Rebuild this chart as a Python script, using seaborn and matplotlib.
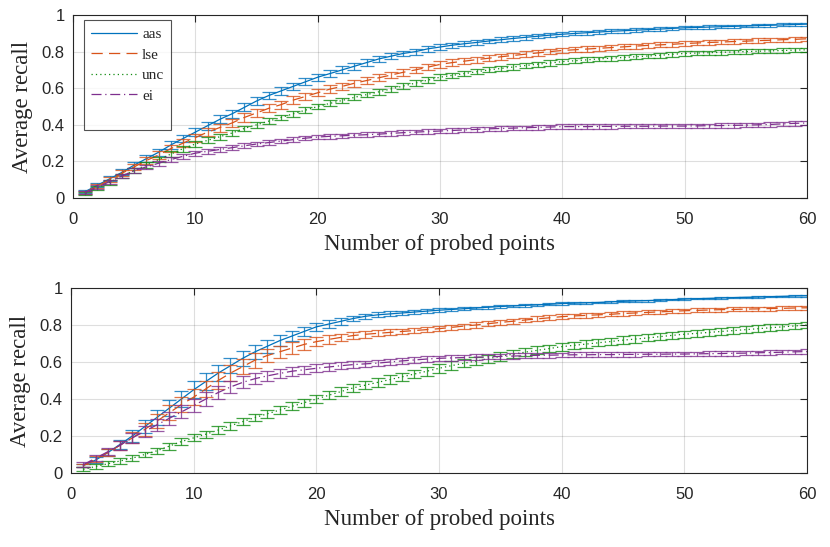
import numpy as np
import pandas as pd
import seaborn as sns
import matplotlib
matplotlib.use("Agg")
import matplotlib.pyplot as plt
from matplotlib.lines import Line2D

sns.set_theme(style="white")
plt.rcParams['font.family'] = ['Liberation Sans', 'DejaVu Sans']

# probed points 1..60
probes = list(range(1, 61))
methods = ['aas', 'lse', 'unc', 'ei']

# ---- top panel (mean recall) ----
top_aas = [.035, .07, .105, .14, .18, .215, .25, .29, .325, .36,
           .395, .43, .46, .495, .53, .56, .585, .61, .635, .66,
           .68, .70, .72, .74, .76, .775, .79, .80, .815, .825,
           .835, .843, .85, .858, .865, .872, .878, .884, .89, .895,
           .899, .903, .907, .911, .914, .917, .92, .923, .927, .93,
           .932, .934, .936, .938, .94, .942, .944, .946, .948, .95]
top_lse = [.03, .065, .10, .135, .17, .205, .235, .27, .30, .33,
           .36, .385, .41, .44, .465, .49, .51, .535, .555, .575,
           .595, .61, .627, .642, .657, .672, .687, .70, .715, .73,
           .74, .748, .756, .764, .772, .779, .786, .793, .80, .806,
           .81, .814, .818, .822, .826, .83, .834, .837, .84, .844,
           .847, .85, .852, .855, .857, .86, .862, .865, .867, .87]
top_unc = [.025, .055, .085, .12, .15, .18, .21, .24, .27, .295,
           .315, .335, .355, .38, .40, .42, .44, .46, .48, .50,
           .517, .533, .55, .565, .58, .596, .612, .628, .644, .66,
           .67, .68, .69, .70, .708, .716, .724, .731, .738, .745,
           .75, .755, .76, .764, .768, .772, .776, .78, .785, .79,
           .792, .794, .796, .798, .80, .802, .804, .806, .808, .81]
top_ei = [.03, .06, .09, .12, .15, .17, .19, .21, .228, .245,
          .255, .265, .275, .285, .295, .303, .311, .319, .327, .333,
          .337, .34, .343, .346, .349, .353, .357, .36, .363, .366,
          .369, .372, .375, .378, .38, .382, .384, .386, .388, .39,
          .39, .39, .391, .391, .392, .392, .392, .393, .393, .393,
          .394, .395, .396, .397, .398, .40, .402, .405, .408, .41]

top_aas_err = [.01, .012, .014, .016, .018, .02, .02, .021, .021, .022,
               .022, .022, .022, .022, .021, .021, .021, .02, .02, .02,
               .019, .019, .018, .018, .017, .017, .016, .016, .015, .015,
               .014, .014, .013, .013, .013, .012, .012, .012, .011, .011,
               .011, .011, .01, .01, .01, .01, .01, .009, .009, .009,
               .009, .009, .009, .008, .008, .008, .008, .008, .008, .008]
top_lse_err = [.01, .012, .014, .016, .018, .02, .02, .021, .021, .022,
               .022, .022, .022, .022, .022, .021, .021, .021, .02, .02,
               .02, .02, .019, .019, .019, .018, .018, .018, .017, .017,
               .017, .016, .016, .016, .016, .015, .015, .015, .015, .015,
               .014, .014, .014, .014, .014, .014, .013, .013, .013, .013,
               .013, .013, .013, .012, .012, .012, .012, .012, .012, .012]
top_unc_err = [.008, .01, .012, .013, .014, .015, .015, .016, .016, .016,
               .016, .016, .016, .016, .016, .016, .016, .016, .016, .016,
               .016, .016, .016, .015, .015, .015, .015, .015, .015, .015,
               .015, .015, .015, .014, .014, .014, .014, .014, .014, .014,
               .014, .013, .013, .013, .013, .013, .013, .013, .013, .013,
               .012, .012, .012, .012, .012, .012, .012, .012, .012, .012]
top_ei_err = [.008, .01, .011, .012, .012, .013, .013, .013, .013, .013,
              .013, .013, .013, .013, .013, .013, .013, .012, .012, .012,
              .012, .012, .012, .012, .012, .012, .012, .012, .012, .012,
              .012, .012, .012, .012, .012, .012, .012, .012, .012, .012,
              .012, .012, .012, .012, .012, .012, .012, .012, .012, .012,
              .012, .012, .012, .012, .012, .012, .012, .013, .013, .013]

# ---- bottom panel ----
bot_aas = [.04, .07, .11, .155, .20, .25, .30, .35, .40, .45,
           .495, .54, .58, .62, .655, .685, .715, .74, .765, .79,
           .805, .82, .835, .847, .855, .86, .865, .87, .875, .88,
           .884, .888, .892, .896, .90, .903, .906, .909, .912, .916,
           .918, .92, .922, .925, .928, .93, .932, .934, .937, .94,
           .942, .944, .946, .948, .95, .951, .953, .955, .957, .958]
bot_lse = [.04, .075, .11, .15, .19, .235, .28, .325, .37, .41,
           .455, .50, .54, .575, .61, .635, .655, .675, .695, .71,
           .722, .733, .743, .75, .755, .76, .765, .77, .775, .78,
           .787, .794, .80, .807, .814, .82, .827, .833, .839, .845,
           .849, .852, .855, .858, .862, .865, .868, .871, .874, .877,
           .879, .881, .883, .884, .886, .887, .889, .89, .892, .893]
bot_unc = [.02, .035, .05, .065, .08, .10, .12, .145, .17, .19,
           .21, .232, .255, .278, .30, .32, .34, .36, .38, .40,
           .42, .44, .46, .475, .49, .505, .52, .535, .55, .566,
           .58, .593, .605, .618, .63, .642, .653, .663, .673, .683,
           .69, .697, .704, .711, .718, .724, .73, .737, .744, .75,
           .755, .76, .765, .77, .775, .78, .785, .79, .795, .80]
bot_ei = [.045, .08, .115, .15, .19, .225, .26, .295, .33, .365,
          .40, .435, .465, .49, .51, .525, .538, .55, .558, .566,
          .573, .58, .586, .59, .594, .60, .606, .611, .616, .62,
          .622, .624, .626, .628, .63, .632, .634, .636, .637, .638,
          .639, .639, .64, .64, .641, .641, .642, .642, .643, .643,
          .644, .645, .646, .647, .648, .65, .651, .653, .655, .656]

bot_aas_err = [.01, .015, .02, .025, .03, .035, .04, .042, .044, .045,
               .045, .044, .042, .04, .037, .034, .031, .028, .025, .022,
               .02, .018, .016, .015, .014, .013, .012, .011, .01, .01,
               .009, .009, .008, .008, .008, .007, .007, .007, .006, .006,
               .006, .006, .005, .005, .005, .005, .005, .005, .004, .004,
               .004, .004, .004, .004, .004, .004, .004, .004, .004, .004]
bot_lse_err = [.01, .015, .02, .025, .03, .034, .037, .04, .042, .043,
               .044, .044, .043, .042, .04, .037, .034, .031, .028, .025,
               .022, .02, .019, .018, .017, .016, .016, .015, .015, .015,
               .014, .014, .014, .014, .013, .013, .013, .013, .013, .012,
               .012, .012, .012, .012, .012, .012, .011, .011, .011, .011,
               .011, .011, .011, .011, .011, .011, .011, .011, .011, .011]
bot_unc_err = [.01, .012, .013, .014, .015, .016, .017, .018, .018, .019,
               .019, .02, .02, .02, .021, .021, .021, .022, .022, .022,
               .022, .023, .023, .023, .023, .023, .023, .023, .023, .023,
               .023, .022, .022, .022, .022, .022, .021, .021, .021, .021,
               .02, .02, .02, .02, .02, .02, .019, .019, .019, .019,
               .019, .018, .018, .018, .018, .018, .018, .018, .018, .018]
bot_ei_err = [.012, .016, .02, .024, .028, .03, .032, .034, .035, .036,
              .036, .035, .034, .032, .03, .028, .026, .024, .022, .021,
              .02, .019, .018, .018, .017, .017, .016, .016, .016, .015,
              .015, .015, .015, .014, .014, .014, .014, .014, .013, .013,
              .013, .013, .013, .013, .012, .012, .012, .012, .012, .012,
              .012, .012, .012, .012, .012, .012, .012, .012, .012, .012]

colors = {'aas': '#0072BD', 'lse': '#D95319', 'unc': '#128C12', 'ei': '#7E2F8E'}
dashes = {'aas': '-', 'lse': (0, (9, 5)), 'unc': (0, (1, 2.5)), 'ei': (0, (8, 3, 1, 3))}

panels = [
    ({'aas': top_aas, 'lse': top_lse, 'unc': top_unc, 'ei': top_ei},
     {'aas': top_aas_err, 'lse': top_lse_err, 'unc': top_unc_err, 'ei': top_ei_err}),
    ({'aas': bot_aas, 'lse': bot_lse, 'unc': bot_unc, 'ei': bot_ei},
     {'aas': bot_aas_err, 'lse': bot_lse_err, 'unc': bot_unc_err, 'ei': bot_ei_err}),
]

fig = plt.figure(figsize=(8.30, 5.47), dpi=100)
ax_top = fig.add_axes([73/830, 1-198/547, (807-73)/830, (198-15)/547])
ax_bot = fig.add_axes([71/830, 1-473/547, (807-71)/830, (473-288)/547])

serif = ['Liberation Serif', 'DejaVu Serif']

for ax, (means, errs) in zip([ax_top, ax_bot], panels):
    for m in methods:
        df = pd.DataFrame({'probes': probes, 'recall': means[m]})
        sns.lineplot(data=df, x='probes', y='recall', ax=ax, color=colors[m],
                     linestyle=dashes[m], linewidth=0.9, legend=False)
        ax.errorbar(probes, means[m], yerr=errs[m], fmt='none', ecolor=colors[m],
                    elinewidth=0.9, capsize=5, capthick=0.9, alpha=0.8)
    ax.set_xlim(0, 60)
    ax.set_ylim(0, 1)
    ax.set_xticks(range(0, 61, 10))
    ax.set_yticks([0, 0.2, 0.4, 0.6, 0.8, 1])
    ax.set_yticklabels(['0', '0.2', '0.4', '0.6', '0.8', '1'])
    ax.grid(True, color='#262626', alpha=0.15, linewidth=0.8)
    ax.tick_params(direction='in', length=5, width=0.8, colors='#262626',
                   labelsize=12, top=True, right=True)
    ax.tick_params(axis='x', pad=10)
    ax.tick_params(axis='y', pad=6)
    for s in ax.spines.values():
        s.set_color('#262626')
        s.set_linewidth(0.8)
    ax.set_xlabel('Number of probed points', family=serif, fontsize=16.5, color='#262626', labelpad=5)
    ax.set_ylabel('Average recall', family=serif, fontsize=16.5, color='#262626', labelpad=6)

# legend box like the MATLAB one (extra room at the bottom)
handles = [Line2D([], [], color=colors[m], linestyle=dashes[m], linewidth=0.9) for m in methods]
handles.append(Line2D([], [], linestyle='none'))
labels = methods + ['']
leg = ax_top.legend(handles, labels, loc='upper left', bbox_to_anchor=(0.015, 0.97),
                    frameon=True, fancybox=False,
                    prop={'family': serif, 'size': 11}, handlelength=3.0,
                    borderpad=0.45, labelspacing=0.45, handletextpad=0.35,
                    borderaxespad=0.0, edgecolor='#262626')
leg.get_frame().set_linewidth(0.8)

fig.savefig('out.png', dpi=100)
